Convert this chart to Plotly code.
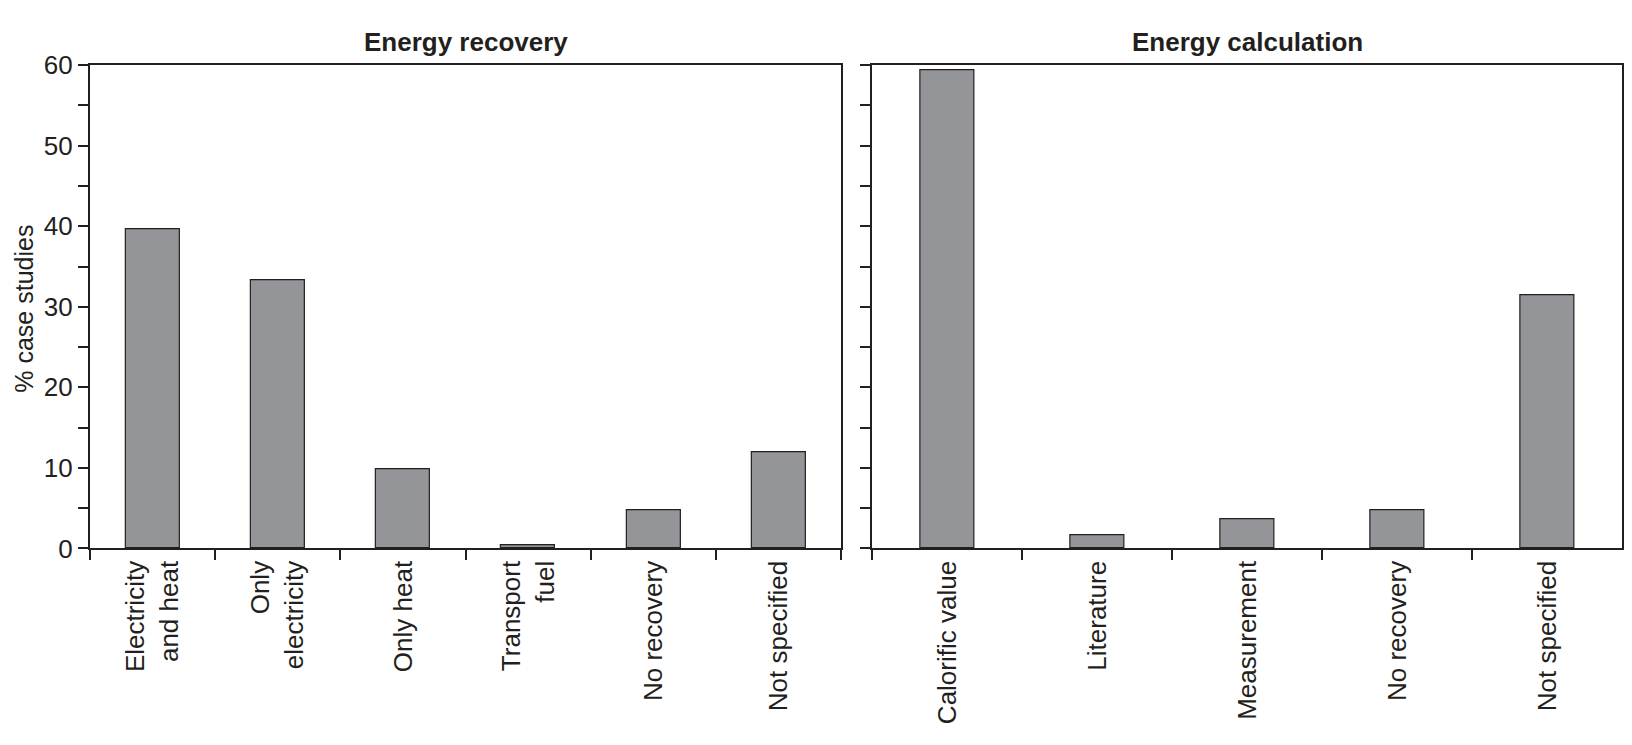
import plotly.graph_objects as go

recovery_cats = ["Electricity<br>and heat", "Only<br>electricity", "Only heat",
                 "Transport<br>fuel", "No recovery", "Not specified"]
recovery_vals = [39.6, 33.3, 9.9, 0.35, 4.8, 12.0]

calc_cats = ["Calorific value", "Literature", "Measurement", "No recovery", "Not specified"]
calc_vals = [59.4, 1.6, 3.6, 4.8, 31.5]

panel_titles = ["Energy recovery", "Energy calculation"]
y_title = "% case studies"

INK = "#231f20"
BAR = "#939598"
FONT = "Liberation Sans, Arial, Helvetica, sans-serif"
FS = 26

# page body has an 8px margin; figure sized so the page fits the 1632x745 window
W, H = 1616, 729
OFF = 8
def fx(px):
    return (px - OFF) / W
def fy(py):
    return 1 - (py - OFF) / H

xl = (fx(90), fx(842))
xr = (fx(873), min(fx(1624), 0.9995))
yd = (fy(556), fy(52))

fig = go.Figure()
fig.add_trace(go.Bar(x=recovery_cats, y=recovery_vals, xaxis="x", yaxis="y",
                     marker=dict(color=BAR, line=dict(color=INK, width=1.2)),
                     width=0.43, showlegend=False))
fig.add_trace(go.Bar(x=calc_cats, y=calc_vals, xaxis="x2", yaxis="y2",
                     marker=dict(color=BAR, line=dict(color=INK, width=1.2)),
                     width=0.36, showlegend=False))

tickfont = dict(family=FONT, size=FS, color=INK)

def yax(domain_anchor, labels, side_ticks, overlay=None):
    d = dict(range=[0, 60], domain=yd, anchor=domain_anchor,
             tickmode="linear", tick0=0, dtick=10,
             ticks=side_ticks, ticklen=10, tickwidth=2, tickcolor=INK,
             minor=dict(dtick=5, ticks=side_ticks, ticklen=10, tickwidth=2, tickcolor=INK),
             showgrid=False, zeroline=False, showline=True, linecolor=INK, linewidth=2,
             showticklabels=labels, tickfont=tickfont, fixedrange=True)
    if overlay:
        d["overlaying"] = overlay
    return d

def xcat(domain, anchor):
    return dict(domain=domain, anchor=anchor, type="category",
                tickson="boundaries", ticks="outside", ticklen=10, tickwidth=2,
                tickcolor=INK, tickangle=-90, tickfont=tickfont,
                showline=True, linecolor=INK, linewidth=2, mirror=True,
                showgrid=False, zeroline=False, fixedrange=True)

def xin(n, anchor, overlay):
    return dict(range=[-0.5, n - 0.5], anchor=anchor, overlaying=overlay,
                tickmode="array", tickvals=[i - 0.5 for i in range(n + 1)],
                ticks="inside", ticklen=10, tickwidth=2, tickcolor=INK,
                showticklabels=False, showline=False, showgrid=False,
                zeroline=False, fixedrange=True)

fig.update_layout(
    width=W, height=H,
    margin=dict(l=0, r=0, t=0, b=0),
    paper_bgcolor="white", plot_bgcolor="white",
    font=dict(family=FONT, size=FS, color=INK),
    bargap=0,
    xaxis=xcat(xl, "y"),
    yaxis=yax("x", True, "outside"),
    xaxis2=xcat(xr, "y2"),
    yaxis2=yax("x2", False, "outside"),
    yaxis3=yax("x", False, "inside", overlay="y"),
    yaxis4=yax("x2", False, "inside", overlay="y2"),
    xaxis3=xin(len(recovery_cats), "y", "x"),
    xaxis4=xin(len(calc_cats), "y2", "x2"),
)
fig.update_layout(yaxis=dict(mirror=True), yaxis2=dict(mirror=True))

for t, dom in zip(panel_titles, [xl, xr]):
    fig.add_annotation(text="<b>%s</b>" % t, x=(dom[0] + dom[1]) / 2, y=fy(28),
                       xref="paper", yref="paper", showarrow=False,
                       font=dict(family=FONT, size=FS, color=INK),
                       xanchor="center", yanchor="middle")

fig.add_annotation(text=y_title, x=0, y=fy(306), xref="paper", yref="paper",
                   showarrow=False, textangle=-90,
                   font=dict(family=FONT, size=25, color=INK),
                   xanchor="left", yanchor="middle")

fig.write_html("out.html")
